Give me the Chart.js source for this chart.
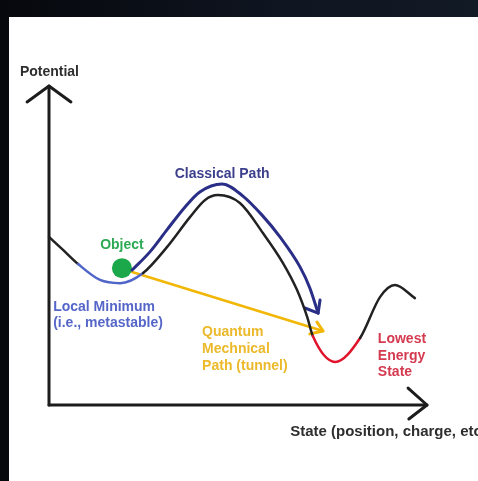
<!DOCTYPE html>
<html>
<head>
<meta charset="utf-8">
<script src="https://cdn.jsdelivr.net/npm/chart.js@4/dist/chart.umd.min.js"></script>
<style>
  html, body { margin: 0; padding: 0; width: 478px; height: 481px; overflow: hidden;
    background: linear-gradient(90deg, #06080c 0%, #0f1521 60%, #121a26 100%); }
  #wrap { position: absolute; left: 9px; top: 17px; width: 469px; height: 464px; background: #ffffff; }
  canvas { display: block; }
</style>
</head>
<body>
<div id="wrap"><canvas id="c" width="469" height="464"></canvas></div>
<script>
// ---- data (state on x, potential on y, both 0..100) ----
const stateX = [0, 4.0, 7.7, 13.5, 18.8, 24.9, 31.2, 37.3, 41.3, 44.7, 50.5, 56.6, 61.9, 65.6, 68.3, 69.8, 75.7, 82.3, 87.6, 91.5, 96.8];
const potentialY = [52.7, 48.3, 44.2, 39.2, 38.2, 41.4, 49.5, 58.9, 64.3, 65.8, 63.3, 53.9, 44.5, 36.1, 27.6, 21.6, 13.5, 21.0, 33.9, 37.6, 33.5];
const localMinRange = [7.7, 24.9];
const lowestRange = [69.8, 82.3];
const classicalX = [22.0, 26.7, 31.2, 36.0, 39.9, 45.8, 51.3, 56.3, 61.1, 66.4, 69.0, 71.2];
const classicalY = [42.3, 48.0, 54.9, 62.1, 66.8, 69.3, 65.5, 59.6, 52.7, 43.3, 36.7, 28.8];
const classicalHeadX = [67.7, 71.2, 71.7];
const classicalHeadY = [30.4, 28.8, 32.9];
const tunnelX = [22.0, 72.5];
const tunnelY = [41.7, 23.2];
const tunnelHeadX = [70.9, 72.5, 69.0];
const tunnelHeadY = [26.0, 23.2, 22.3];
const objectX = [19.3];
const objectY = [42.9];
const yAxisX = [0, 0];
const yAxisY = [0, 100];
const yHeadX = [-5.8, 0, 5.8];
const yHeadY = [95.0, 100, 95.0];
const xAxisX = [0, 100];
const xAxisY = [0, 0];
const xHeadX = [95.0, 100, 95.2];
const xHeadY = [5.3, 0, -4.4];

// ---- text labels ----
const labelTexts = ['Potential', 'State (position, charge, etc.)', 'Classical Path', 'Object',
  'Local Minimum', '(i.e., metastable)', 'Quantum', 'Mechnical', 'Path (tunnel)',
  'Lowest', 'Energy', 'State'];
const labelX = [-7.7, 63.8, 45.8, 19.3, 1.1, 1.1, 40.5, 40.5, 40.5, 87.0, 87.0, 87.0];
const labelY = [104.4, -8.5, 72.4, 50.2, 30.7, 25.7, 22.9, 17.6, 12.2, 20.7, 15.4, 10.3];

const zip = (xs, ys) => xs.map((x, i) => ({ x: x, y: ys[i] }));
const labelStyle = [
  { color: '#2e2e2e', align: 'left', size: 14 }, { color: '#2e2e2e', align: 'left', size: 15 },
  { color: '#3b3f8c', align: 'center', size: 14 }, { color: '#2eaa55', align: 'center', size: 14 },
  { color: '#5566c8', align: 'left', size: 14 }, { color: '#5566c8', align: 'left', size: 14 },
  { color: '#ebb92a', align: 'left', size: 14 }, { color: '#ebb92a', align: 'left', size: 14 }, { color: '#ebb92a', align: 'left', size: 14 },
  { color: '#d43a50', align: 'left', size: 14 }, { color: '#d43a50', align: 'left', size: 14 }, { color: '#d43a50', align: 'left', size: 14 }
];

const lineDs = (xs, ys, color, width, smooth) => ({
  type: 'line', data: zip(xs, ys), borderColor: color, borderWidth: width,
  pointRadius: 0, tension: smooth ? 0.4 : 0, cubicInterpolationMode: smooth ? 'monotone' : 'default',
  fill: false, clip: false, borderCapStyle: 'round', borderJoinStyle: 'round'
});

const curveDs = lineDs(stateX, potentialY, '#222222', 2.5, true);
curveDs.segment = {
  borderColor: (ctx) => {
    const x = ctx.p0.parsed.x;
    if (x >= localMinRange[0] && x < localMinRange[1]) return '#5065c8';
    if (x >= lowestRange[0] && x < lowestRange[1]) return '#e0142c';
    return '#222222';
  }
};

const textPlugin = {
  id: 'texts',
  afterDatasetsDraw(chart) {
    const ctx = chart.ctx;
    const xs = chart.scales.x, ys = chart.scales.y;
    ctx.save();
    ctx.textBaseline = 'middle';
    labelTexts.forEach((t, i) => {
      ctx.font = 'bold ' + labelStyle[i].size + 'px "Liberation Sans", Arial, sans-serif';
      ctx.fillStyle = labelStyle[i].color;
      ctx.textAlign = labelStyle[i].align;
      ctx.fillText(t, xs.getPixelForValue(labelX[i]), ys.getPixelForValue(labelY[i]));
    });
    ctx.restore();
  }
};

new Chart(document.getElementById('c'), {
  type: 'scatter',
  data: {
    datasets: [
      lineDs(yAxisX, yAxisY, '#1c1c1c', 3, false),
      lineDs(yHeadX, yHeadY, '#1c1c1c', 3, false),
      lineDs(xAxisX, xAxisY, '#1c1c1c', 3, false),
      lineDs(xHeadX, xHeadY, '#1c1c1c', 3, false),
      curveDs,
      lineDs(classicalX, classicalY, '#2a2e86', 3, true),
      lineDs(classicalHeadX, classicalHeadY, '#2a2e86', 3, false),
      lineDs(tunnelX, tunnelY, '#f2b705', 2.5, false),
      lineDs(tunnelHeadX, tunnelHeadY, '#f2b705', 3, false),
      { type: 'scatter', data: zip(objectX, objectY), pointRadius: 10,
        backgroundColor: '#1aa84a', borderColor: '#1aa84a', borderWidth: 0, clip: false }
    ]
  },
  options: {
    responsive: false,
    animation: false,
    layout: { padding: { left: 40, right: 51, top: 69, bottom: 76 } },
    plugins: { legend: { display: false }, tooltip: { enabled: false } },
    scales: {
      x: { type: 'linear', min: 0, max: 100, display: false },
      y: { type: 'linear', min: 0, max: 100, display: false }
    }
  },
  plugins: [textPlugin]
});
</script>
</body>
</html>
